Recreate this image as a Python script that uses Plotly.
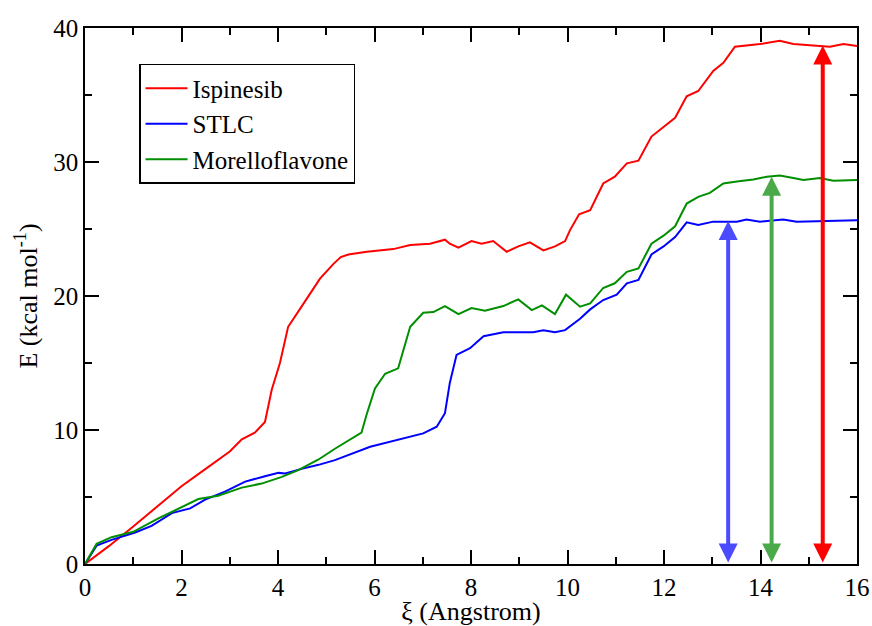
import plotly.graph_objects as go

# ---- data ----
isp_x = [0, 0.5, 1.0, 1.5, 2.0, 2.5, 3.0, 3.25, 3.52, 3.73, 3.87, 4.04, 4.21, 4.45, 4.66, 4.87,
         5.15, 5.3, 5.46, 5.84, 6.39, 6.74, 7.15, 7.46, 7.56, 7.74, 8.01, 8.22, 8.46, 8.74,
         8.98, 9.22, 9.50, 9.74, 9.95, 10.05, 10.24, 10.47, 10.74, 10.98, 11.23, 11.47, 11.74,
         11.99, 12.23, 12.47, 12.71, 13.02, 13.23, 13.47, 13.99, 14.40, 14.68, 15.09, 15.44,
         15.72, 16.0]
isp_y = [0, 1.35, 2.8, 4.3, 5.8, 7.1, 8.4, 9.3, 9.8, 10.6, 13.0, 15.0, 17.7, 19.0, 20.2, 21.3,
         22.4, 22.9, 23.1, 23.3, 23.5, 23.8, 23.9, 24.2, 23.9, 23.6, 24.1, 23.9, 24.1, 23.3,
         23.7, 24.0, 23.4, 23.7, 24.1, 24.9, 26.1, 26.4, 28.4, 28.9, 29.9, 30.1, 31.9,
         32.6, 33.3, 34.9, 35.3, 36.8, 37.4, 38.6, 38.8, 39.05, 38.8, 38.7, 38.6,
         38.8, 38.65]

stlc_x = [0, 0.24, 0.55, 1.04, 1.38, 1.80, 2.18, 2.49, 2.90, 3.32, 3.73, 4.01, 4.15, 4.49, 4.84,
          5.18, 5.91, 6.46, 7.01, 7.29, 7.46, 7.56, 7.70, 7.98, 8.26, 8.67, 9.29, 9.50, 9.74,
          9.95, 10.26, 10.47, 10.74, 11.02, 11.23, 11.47, 11.74, 11.99, 12.23, 12.47, 12.71,
          13.02, 13.51, 13.71, 13.99, 14.47, 14.75, 16.0]
stlc_y = [0, 1.37, 1.8, 2.35, 2.85, 3.8, 4.15, 4.8, 5.4, 6.15, 6.55, 6.8, 6.75, 7.1, 7.4,
          7.75, 8.75, 9.25, 9.75, 10.25, 11.25, 13.5, 15.6, 16.1, 17.0, 17.3, 17.3, 17.45, 17.3,
          17.45, 18.3, 19.0, 19.7, 20.1, 20.95, 21.2, 23.1, 23.7, 24.4, 25.5, 25.3,
          25.55, 25.55, 25.7, 25.55, 25.7, 25.55, 25.65]

mor_x = [0, 0.24, 0.55, 1.0, 1.52, 2.07, 2.35, 2.76, 3.25, 3.66, 4.08, 4.42, 4.84, 5.18, 5.42,
         5.73, 5.84, 6.01, 6.22, 6.49, 6.74, 7.01, 7.22, 7.46, 7.74, 8.01, 8.29, 8.67, 8.98,
         9.26, 9.47, 9.74, 9.97, 10.26, 10.47, 10.74, 10.98, 11.23, 11.47, 11.74, 11.99, 12.23,
         12.47, 12.71, 12.95, 13.23, 13.51, 13.85, 14.13, 14.40, 14.68, 14.89, 15.23, 15.51, 16.0]
mor_y = [0, 1.5, 2.0, 2.4, 3.4, 4.4, 4.85, 5.1, 5.7, 6.0, 6.5, 7.0, 7.8, 8.6, 9.1,
         9.8, 11.2, 13.1, 14.2, 14.6, 17.7, 18.75, 18.8, 19.25, 18.65, 19.1, 18.9, 19.25, 19.75,
         18.95, 19.3, 18.65, 20.1, 19.2, 19.45, 20.6, 20.95, 21.8, 22.05, 23.9, 24.5, 25.2,
         26.9, 27.4, 27.7, 28.4, 28.55, 28.7, 28.9, 29.0, 28.8, 28.65, 28.8, 28.6, 28.65]

series_names = ["Ispinesib", "STLC", "Morelloflavone"]
series_colors = ["#ff0000", "#0000ff", "#008f00"]

arrow_x = [13.33, 14.23, 15.29]
arrow_top = [25.6, 28.9, 38.7]
arrow_colors = ["#4a4aff", "#4aaa4a", "#ff0000"]

x_ticks = [0, 2, 4, 6, 8, 10, 12, 14, 16]
y_ticks = [0, 10, 20, 30, 40]

FONT = "Liberation Serif, serif"

fig = go.Figure()
for name, xs, ys, col in zip(series_names, [isp_x, stlc_x, mor_x], [isp_y, stlc_y, mor_y], series_colors):
    fig.add_trace(go.Scatter(x=xs, y=ys, mode="lines", name=name,
                             line=dict(color=col, width=2)))

for ax_, top, col in zip(arrow_x, arrow_top, arrow_colors):
    fig.add_annotation(x=ax_, y=top, ax=ax_, ay=0, xref="x", yref="y", axref="x", ayref="y",
                       text="", showarrow=True, arrowside="end+start",
                       arrowhead=2, startarrowhead=2, arrowsize=0.95, startarrowsize=0.95,
                       arrowwidth=4, arrowcolor=col, standoff=0, startstandoff=0)

axis_common = dict(showline=True, linecolor="black", linewidth=1.5, mirror="ticks",
                   ticks="inside", ticklen=14, tickwidth=1.5, tickcolor="black",
                   showgrid=False, zeroline=False, automargin=False,
                   tickfont=dict(family=FONT, size=25, color="black"))

fig.update_xaxes(range=[0, 16], tickvals=x_ticks,
                 minor=dict(ticks="inside", ticklen=7, tickwidth=1.5, tickcolor="black", dtick=1),
                 title=dict(text="ξ (Angstrom)", font=dict(family=FONT, size=26, color="black"), standoff=4),
                 **axis_common)
fig.update_yaxes(range=[0, 40], tickvals=y_ticks,
                 minor=dict(ticks="inside", ticklen=7, tickwidth=1.5, tickcolor="black", dtick=5),
                 title=dict(text="E (kcal mol<sup>-1</sup>)", font=dict(family=FONT, size=26, color="black"), standoff=8),
                 **axis_common)

fig.update_layout(
    width=872, height=626,
    margin=dict(l=85, r=15, t=28, b=62),
    paper_bgcolor="white", plot_bgcolor="white",
    font=dict(family=FONT, color="black"),
    legend=dict(x=0.070, y=0.933, xanchor="left", yanchor="top",
                bordercolor="black", borderwidth=1.5, bgcolor="white",
                font=dict(family=FONT, size=25, color="black"),
                tracegroupgap=0, itemwidth=42),
    showlegend=True,
)

fig.write_html("out.html",
               config={"displayModeBar": False},
               post_script="document.body.style.margin='0';document.body.style.overflow='hidden';")
